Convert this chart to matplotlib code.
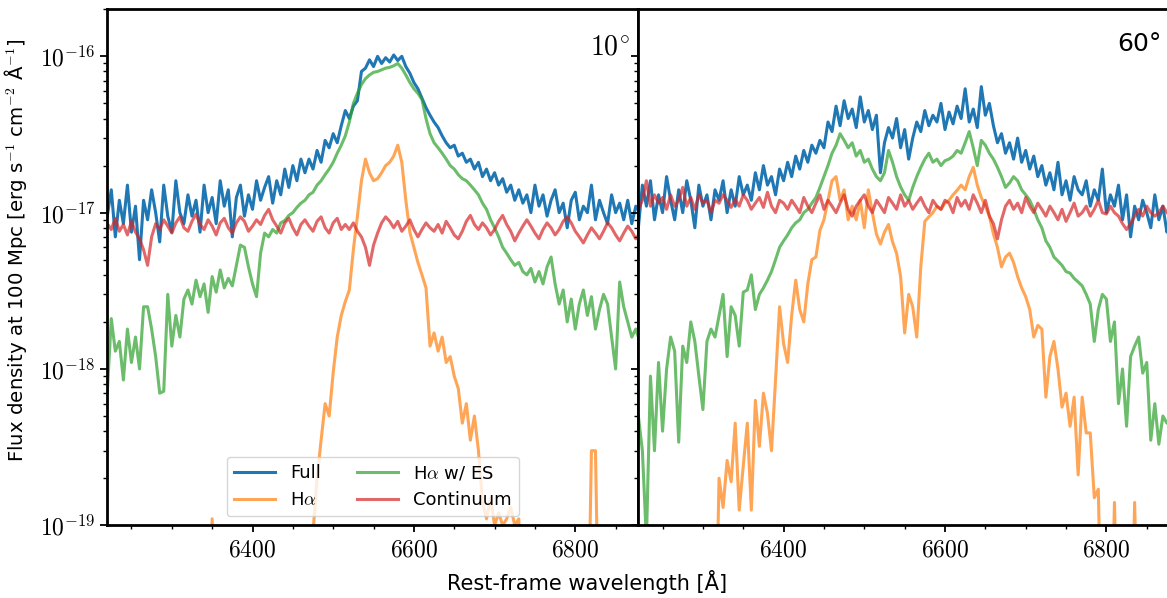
import matplotlib
matplotlib.use("Agg")
import matplotlib.pyplot as plt
import numpy as np
from matplotlib.ticker import MultipleLocator, FuncFormatter, FixedLocator, LogLocator, NullFormatter

# wavelength grid [Angstrom], flux values in units of 1e-18 erg/s/cm^2/A
wave = np.arange(6220, 6881, 5)
unit = 1e-18

full_10 = [9.5, 14, 7, 12, 8.5, 15, 7.5, 11, 5, 12,
           9, 14, 10, 6.5, 15, 9.5, 7.5, 16, 10, 8.5,
           13, 9.5, 12, 7.5, 15, 10, 12.5, 8.5, 16, 11,
           14, 7, 12.5, 15, 9.5, 13, 10.5, 16, 12, 14.5,
           17, 11.5, 16, 13, 19, 14.5, 20, 16, 22, 18,
           22, 19, 25, 21, 29, 26, 32, 28, 36, 45,
           40, 48, 52, 80, 84, 95, 86, 100, 90, 98,
           92, 102, 94, 100, 86, 78, 68, 62, 54, 47,
           42, 38, 35, 31, 28, 26, 27, 23, 24, 21,
           22, 19, 21, 17, 19, 16, 18, 15, 16.5, 13.5,
           15, 12, 14, 11.5, 13, 10, 15, 11, 13, 9.5,
           12, 14, 10, 11.5, 8, 12, 13.5, 9, 11, 10,
           15, 9, 12, 10, 8.5, 13, 10, 11.5, 9, 12,
           8.5, 11, 10]
halpha_10 = [0.01] * 10 + [0.01] * 10 + \
    [0.01, 0.01, 0.01, 0.01, 0.01, 0.01, 0.11, 0.01, 0.01, 0.01] + \
    [0.01] * 10 + [0.01] * 10 + \
    [0.01, 0.09, 0.2, 0.35, 0.6, 0.5, 0.95, 1.6, 2.2, 2.7,
     3.2, 5.8, 9.5, 16, 22, 18, 16, 16.5, 18, 20,
     21, 23, 27, 21, 12, 7.5, 6.0, 4.8, 4.0, 3.3,
     1.4, 1.7, 1.3, 1.6, 1.1, 1.2, 0.9, 0.75, 0.45, 0.6,
     0.35, 0.5, 0.3, 0.14, 0.11, 0.15, 0.1, 0.12, 0.1, 0.11,
     0.13, 0.1, 0.11, 0.01, 0.01, 0.01, 0.01, 0.01, 0.01, 0.01] + \
    [0.01] * 10 + \
    [0.3, 0.3, 0.01, 0.01, 0.01, 0.01, 0.01, 0.01, 0.01, 0.01,
     0.01, 0.01, 0.01]
es_10 = [0.7, 2.1, 1.3, 1.5, 0.85, 1.8, 1.1, 1.6, 1.0, 2.5,
         2.5, 1.8, 1.2, 0.7, 0.72, 3.0, 1.4, 2.2, 1.6, 2.8,
         3.2, 2.6, 3.7, 2.9, 3.5, 2.3, 3.9, 3.1, 4.3, 3.3,
         3.8, 3.4, 4.6, 6.2, 6.0, 4.5, 3.5, 2.9, 5.5, 7.4,
         7.0, 7.8, 7.4, 8.6, 8.9, 9.6, 10, 10.8, 11.5, 12,
         13, 13.5, 15, 16, 17.5, 19, 21, 24, 27, 31,
         38, 50, 58, 66, 72, 76, 79, 80, 82, 84,
         85, 87, 90, 84, 76, 68, 62, 58, 53, 40,
         32, 28, 26, 24, 22, 20, 19, 17.5, 16.5, 16,
         15, 14, 13, 11.5, 10.5, 9, 8, 7, 6, 5.5,
         5, 4.6, 4.8, 4.2, 4.0, 4.4, 3.6, 4.2, 3.5, 4.5,
         5.2, 3.5, 2.6, 3.2, 2.0, 2.8, 1.8, 2.6, 3.2, 2.2,
         2.9, 1.8, 2.4, 3.0, 2.6, 1.6, 1.0, 3.6, 2.5, 2.0,
         1.6, 1.8, 1.5]
cont_10 = [8.5, 7.8, 9.2, 7.6, 8.4, 7.2, 8.8, 7.5, 6.8, 5.8,
           4.6, 7.0, 8.5, 7.8, 9.0, 8.2, 7.4, 8.6, 9.4, 8.0,
           7.6, 8.8, 9.8, 8.4, 7.8, 9.0, 8.2, 7.2, 8.6, 9.2,
           8.0, 7.4, 8.6, 9.4, 8.8, 7.6, 8.2, 9.0, 8.4, 9.6,
           10.5, 9.0, 8.2, 7.4, 8.6, 9.2, 8.0, 7.2, 8.4, 9.0,
           8.2, 7.6, 8.8, 9.4, 8.0, 7.4, 8.6, 9.2, 7.8, 8.4,
           7.8, 8.6, 7.6, 7.0, 6.0, 4.6, 6.2, 7.4, 8.6, 9.4,
           8.8, 8.0, 8.8, 7.6, 8.2, 9.0, 7.8, 7.0, 7.8, 8.6,
           8.0, 7.6, 8.4, 7.4, 8.8, 8.0, 7.2, 6.8, 7.6, 8.8,
           9.6, 8.4, 7.8, 8.6, 8.0, 7.2, 7.8, 8.8, 9.6, 8.4,
           7.6, 6.6, 7.4, 8.2, 9.0, 8.2, 7.4, 6.8, 7.8, 8.6,
           8.0, 7.2, 7.8, 8.8, 9.4, 8.6, 7.6, 7.0, 6.4, 7.2,
           8.0, 7.4, 6.8, 7.6, 8.6, 8.0, 7.2, 6.6, 7.4, 8.2,
           7.6, 6.8, 7.4]

full_60 = [8, 15, 11, 16, 9, 13, 10, 17, 12, 9,
           14, 10, 16, 12, 8, 15, 11, 13, 9, 14,
           12, 16, 10, 14, 11, 17, 13, 15, 12, 18,
           14, 20, 15, 17, 13, 19, 16, 21, 17, 23,
           19, 25, 21, 27, 24, 29, 26, 38, 33, 48,
           36, 52, 40, 46, 35, 55, 38, 45, 34, 42,
           18, 28, 35, 30, 40, 26, 34, 22, 30, 38,
           33, 45, 36, 42, 38, 50, 34, 44, 37, 48,
           40, 62, 38, 46, 35, 64, 42, 50, 36, 28,
           32, 24, 28, 22, 30, 21, 25, 19, 23, 17,
           20, 15, 18, 14, 21, 13, 16, 12, 17, 14,
           13, 16, 11, 14, 12, 19, 10, 13, 11, 15,
           9, 13, 7, 11, 9, 12, 10, 8, 13, 9,
           11, 7.5, 10]
halpha_60 = [0.01] * 10 + [0.01] * 10 + \
    [0.2, 0.13, 0.26, 0.19, 0.45, 0.125, 0.24, 0.45, 0.125, 0.63,
     0.32, 0.7, 0.52, 0.3, 0.85, 2.5, 1.45, 1.1, 2.2, 3.7,
     2.4, 2.0, 3.5, 5.0, 5.2, 7.7, 9, 12, 16, 17,
     12, 14, 9, 11, 9, 12, 8, 14, 10, 7.3,
     6.3, 7.5, 8.4, 6.5, 5.5, 3.9, 1.7, 3.0, 2.5, 1.6,
     4.5, 8.8, 9.4, 10, 11, 10.5, 11.5, 12, 13, 13.9,
     15, 14, 17, 19.5, 15, 12.5, 11, 9.5, 7.3, 6,
     4.5, 5.2, 5.5, 4.8, 3.9, 3.3, 2.9, 2.4, 1.6, 1.9,
     1.8, 0.66, 1.2, 1.5, 1.0, 0.57, 0.7, 0.43, 0.66, 0.21,
     0.66, 0.39, 0.39, 0.15, 0.17, 0.01, 0.01, 0.01, 0.14, 0.01,
     0.01, 0.01, 0.01, 0.14, 0.01, 0.01, 0.01, 0.01, 0.01, 0.01,
     0.01, 0.01, 0.01]
es_60 = [0.5, 0.3, 0.08, 0.9, 0.3, 1.1, 0.4, 1.0, 1.6, 1.3,
         0.34, 1.4, 1.1, 2.0, 1.5, 0.9, 0.55, 1.5, 1.8, 1.6,
         2.2, 3.0, 1.2, 2.5, 2.2, 1.4, 3.1, 3.2, 4.0, 2.4,
         3.0, 3.3, 3.7, 4.2, 5.0, 6.0, 6.6, 7.2, 8.0, 8.6,
         9, 10, 10.5, 11.5, 12.5, 14.5, 17, 20, 24, 27,
         32, 29, 26, 28, 23, 25, 21, 22, 19, 17,
         16, 18, 25, 21, 17, 14.6, 13, 12, 14.5, 17,
         19.5, 22, 24, 21, 22, 20, 21.5, 22, 23, 25,
         24, 28, 33, 26, 20, 29, 27, 24, 22, 19.5,
         17, 14.5, 15.5, 17, 16, 14, 13, 12, 10.5, 9,
         8, 6.6, 6, 5.2, 4.9, 4.6, 4.2, 4.1, 3.8, 3.6,
         3.4, 3.0, 2.6, 1.5, 2.4, 3.0, 2.8, 1.5, 2.0, 0.6,
         1.0, 0.43, 1.2, 1.4, 1.6, 0.94, 1.1, 0.35, 0.6, 0.33,
         0.5, 0.45, 0.5]
cont_60 = [10.5, 12, 16, 11, 13, 11.5, 12.5, 10.5, 13, 11,
           12, 14.5, 11, 12.5, 10.5, 13, 11.5, 12, 10, 12,
           11.5, 13, 12, 10.8, 12.2, 11, 13, 12, 10.5, 11.5,
           12.5, 10.8, 13.5, 11, 10, 12, 11.5, 10.5, 12, 11,
           10, 12.5, 11, 10, 11.5, 13, 10.5, 12, 11, 10,
           11.5, 13, 10.5, 9.5, 11, 12, 13, 11, 10, 12,
           11, 10, 12.5, 11.5, 10.5, 13, 11, 12, 10.5, 11.5,
           12.5, 11, 10, 12, 11, 10.5, 12, 11.5, 10, 12.5,
           11, 12, 10.5, 13, 11.5, 10, 12, 9.5, 8.5, 6.8,
           9, 11, 12, 10.5, 11.5, 10, 12.5, 11, 10, 11.5,
           10.5, 9.5, 11, 10, 9, 10.5, 8.8, 10, 11.5, 9.5,
           10, 11, 9.5, 10.5, 12, 10, 9.8, 11, 10, 9.5,
           8.5, 7.8, 8.5, 9.5, 10.5, 9.5, 11, 10, 9.5, 10,
           11, 10, 9.5]

decades = [1e-19, 1e-18, 1e-17, 1e-16]

panels = [(full_10, halpha_10, es_10, cont_10),
          (full_60, halpha_60, es_60, cont_60)]

plt.rcParams['mathtext.fontset'] = 'cm'
plt.rcParams['font.family'] = 'DejaVu Sans'

fig = plt.figure(figsize=(11.67, 5.98), dpi=100)
ax1 = fig.add_axes([0.0919, 0.1216, 0.4550, 0.8629])
ax2 = fig.add_axes([0.5470, 0.1216, 0.4550, 0.8629], sharey=ax1)

for ax, (full, ha, es, cont) in zip([ax1, ax2], panels):
    ax.plot(wave, np.array(full) * unit, color='#1f77b4', lw=2.2, label='Full')
    ax.plot(wave, np.array(ha) * unit, color='#ff7f0e', lw=2.2, alpha=0.7, label=r'H$\alpha$')
    ax.plot(wave, np.array(es) * unit, color='#2ca02c', lw=2.2, alpha=0.7, label=r'H$\alpha$ w/ ES')
    ax.plot(wave, np.array(cont) * unit, color='#d62728', lw=2.2, alpha=0.7, label='Continuum')
    ax.set_yscale('log')
    ax.set_xlim(6220, 6878)
    ax.set_ylim(1e-19, 2e-16)
    ax.xaxis.set_major_locator(MultipleLocator(200))
    ax.xaxis.set_minor_locator(MultipleLocator(50))
    ax.xaxis.set_major_formatter(FuncFormatter(lambda v, p: r'$%d$' % v))
    ax.yaxis.set_major_locator(FixedLocator(decades))
    ax.yaxis.set_minor_locator(LogLocator(base=10, subs=np.arange(2, 10)))
    ax.yaxis.set_minor_formatter(NullFormatter())
    ax.yaxis.set_major_formatter(FuncFormatter(lambda v, p: r'$10^{%d}$' % round(np.log10(v))))
    ax.tick_params(which='major', length=5, width=1.3, labelsize=17)
    ax.tick_params(which='minor', length=3, width=1.0)
    for sp in ax.spines.values():
        sp.set_linewidth(2.0)

ax1.text(0.985, 0.955, r'$10^{\!\circ}$', transform=ax1.transAxes, ha='right', va='top', fontsize=20)
ax2.text(0.985, 0.955, '60°', transform=ax2.transAxes, ha='right', va='top', fontsize=18)
plt.setp(ax2.get_yticklabels(), visible=False)

ax1.set_ylabel(r'Flux density at 100 Mpc [erg s$^{-1}$ cm$^{-2}$ Å$^{-1}$]', fontsize=14.2)
ax1.yaxis.set_label_coords(-0.148, 0.532)
fig.text(0.503, 0.027, 'Rest-frame wavelength [Å]', ha='center', va='center', fontsize=15)

ax1.legend(ncol=2, loc='lower center', bbox_to_anchor=(0.50, 0.0), fontsize=13,
           handlelength=2.3, columnspacing=2.0, framealpha=0.8)

fig.savefig('out.png', dpi=100)
